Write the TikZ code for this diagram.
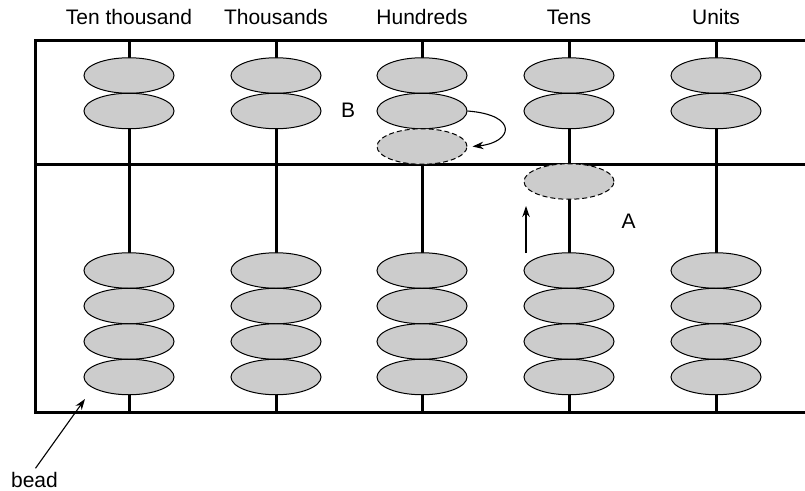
\documentclass[tikz,border=0pt]{standalone}
\usepackage{fontspec}
\setmainfont{Liberation Sans}
\usetikzlibrary{arrows.meta,positioning,shapes.geometric}
\definecolor{beadfill}{RGB}{204,204,204}

\begin{document}
\begin{tikzpicture}[
  x=1pt, y=-1pt,
  every node/.style={font=\fontsize{21}{25}\selectfont},
  bead/.style={ellipse, draw=black, line width=1pt, fill=beadfill,
               minimum width=90pt, minimum height=35.5pt, inner sep=0pt},
  movedbead/.style={bead, dash pattern=on 5pt off 3pt},
  framebar/.style={line width=3pt, line join=miter},
  rod/.style={line width=3pt},
  pointer/.style={->, line width=1.1pt},
  >={Stealth[length=11pt, width=7.5pt]}
]
\useasboundingbox (0,0) rectangle (805,490);

\foreach \name/\x/\txt in {tth/129/Ten thousand, th/276/Thousands,
                           hu/422/Hundreds, te/569/Tens, un/716/Units} {
  \node[anchor=base] (\name-lbl) at (\x,24) {\txt};
  \coordinate (\name-top) at (\x,40);
  \coordinate (\name-bot) at (\x,412);
  \draw[rod] (\name-top) -- (\name-bot);
}

\draw[framebar] (805,40) -- (35.5,40) -- (35.5,412) -- (805,412);
\draw[framebar] (35.5,164) -- (805,164);

\foreach \name/\x in {tth/129, th/276, hu/422, te/569, un/716} {
  \node[bead] (\name-u1) at (\x,75.5) {};
  \node[bead] (\name-u2) at (\x,111) {};
  \foreach \k/\y in {1/270.5, 2/306, 3/341.5, 4/377}
    \node[bead] (\name-l\k) at (\x,\y) {};
}

\node[movedbead] (hu-ghost) at (422,146.5) {};
\node[movedbead] (te-ghost) at (569,181.5) {};

\node[anchor=base] (lblB) at (348,117) {B};
\node[anchor=base] (lblA) at (628.5,228) {A};

\draw[pointer] (hu-u2.east) .. controls +(52,4) and +(40,-4) .. ([xshift=5pt]hu-ghost.east);

\coordinate (te-from) at (526,253);
\coordinate (te-to) at (526,206);
\draw[pointer] (te-from) -- (te-to);

\node[anchor=base] (bead-lbl) at (34.5,487) {bead};
\coordinate (bead-tip) at (85,399);
\draw[pointer] ([xshift=1pt]bead-lbl.north) -- (bead-tip);

\end{tikzpicture}
\end{document}
